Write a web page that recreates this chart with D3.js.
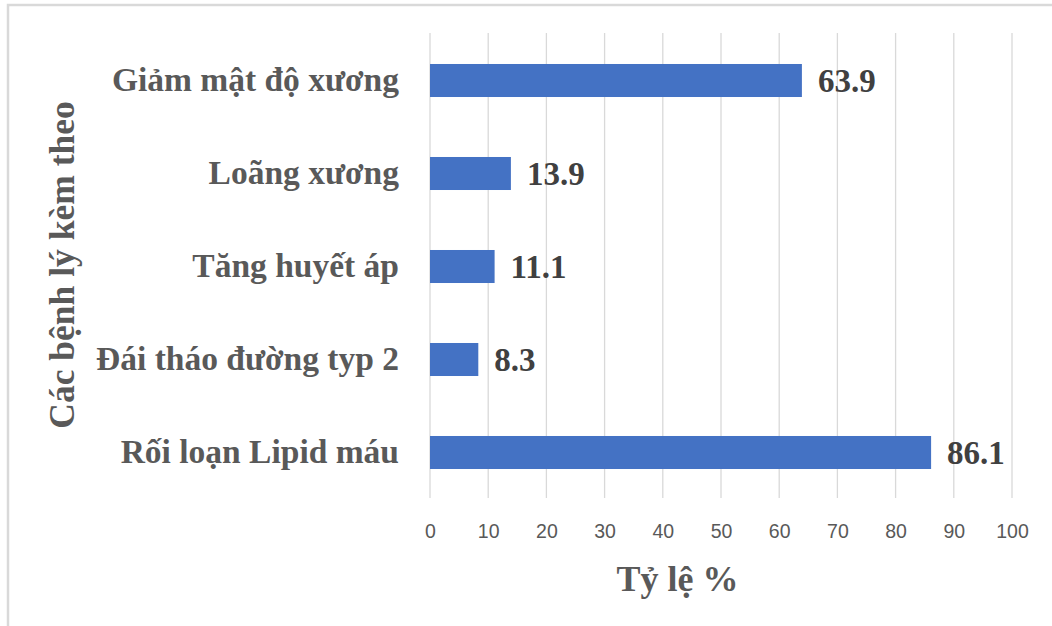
<!DOCTYPE html>
<html>
<head>
<meta charset="utf-8">
<script src="https://cdn.jsdelivr.net/npm/d3@7"></script>
<style>
  html, body { margin: 0; padding: 0; background: #fff; }
  svg { display: block; }
</style>
</head>
<body>
<svg id="chart" width="1052" height="626"></svg>
<script>
// Comorbidities and their prevalence (%)
const categories = ["Giảm mật độ xương", "Loãng xương", "Tăng huyết áp", "Đái tháo đường typ 2", "Rối loạn Lipid máu"];
const values = [63.9, 13.9, 11.1, 8.3, 86.1];
const tickValues = [0, 10, 20, 30, 40, 50, 60, 70, 80, 90, 100];
const xTitle = "Tỷ lệ %";
const yTitle = "Các bệnh lý kèm theo";

const svg = d3.select("#chart");
const serif = "'Liberation Serif', 'Times New Roman', serif";
const sans = "'Liberation Sans', Arial, sans-serif";

// Chart frame
svg.append("path")
  .attr("d", "M8,626 V5 H1052")
  .attr("fill", "none")
  .attr("stroke", "#d9d9d9")
  .attr("stroke-width", 2.5);

const plot = { left: 430, right: 1012, top: 33, bottom: 498 };

const x = d3.scaleLinear().domain([0, 100]).range([plot.left, plot.right]);
const y = d3.scaleBand().domain(categories).range([plot.top + 1, plot.bottom + 1])
  .paddingInner(0.645).paddingOuter(0.3225);

// Vertical gridlines
svg.append("g")
  .selectAll("line")
  .data(tickValues)
  .join("line")
  .attr("x1", d => x(d)).attr("x2", d => x(d))
  .attr("y1", plot.top).attr("y2", plot.bottom)
  .attr("stroke", "#d9d9d9")
  .attr("stroke-width", 1.3);

// Tick labels on the value axis
const xAxis = d3.axisBottom(x).tickValues(tickValues).tickSize(0).tickFormat(d3.format("d"));
const gx = svg.append("g").attr("transform", `translate(0,537.5)`).call(xAxis);
gx.select(".domain").remove();
gx.selectAll("text")
  .attr("y", 0)
  .attr("dy", 0)
  .attr("font-family", sans)
  .attr("font-size", 19.5)
  .attr("fill", "#595959");

// Bars
svg.append("g")
  .selectAll("rect")
  .data(categories)
  .join("rect")
  .attr("x", x(0))
  .attr("y", d => y(d))
  .attr("width", (d, i) => x(values[i]) - x(0))
  .attr("height", y.bandwidth())
  .attr("fill", "#4472c4");

// Value labels
svg.append("g")
  .selectAll("text")
  .data(categories)
  .join("text")
  .attr("x", (d, i) => x(values[i]) + 16)
  .attr("y", d => y(d) + y.bandwidth() / 2)
  .attr("dy", "0.35em")
  .attr("font-family", serif)
  .attr("font-weight", "bold")
  .attr("font-size", 33)
  .attr("fill", "#404040")
  .text((d, i) => values[i].toFixed(1));

// Category labels
const yAxis = d3.axisLeft(y).tickSize(0).tickPadding(31);
const gy = svg.append("g").attr("transform", `translate(${plot.left},0)`).call(yAxis);
gy.select(".domain").remove();
gy.selectAll("text")
  .attr("font-family", serif)
  .attr("font-weight", "bold")
  .attr("font-size", 33.5)
  .attr("fill", "#595959");

// Axis titles
svg.append("text")
  .attr("x", 677.5)
  .attr("y", 591)
  .attr("text-anchor", "middle")
  .attr("font-family", serif)
  .attr("font-weight", "bold")
  .attr("font-size", 36)
  .attr("fill", "#595959")
  .text(xTitle);

svg.append("text")
  .attr("transform", "translate(74,265) rotate(-90)")
  .attr("text-anchor", "middle")
  .attr("font-family", serif)
  .attr("font-weight", "bold")
  .attr("font-size", 35.5)
  .attr("fill", "#595959")
  .text(yTitle);
</script>
</body>
</html>
